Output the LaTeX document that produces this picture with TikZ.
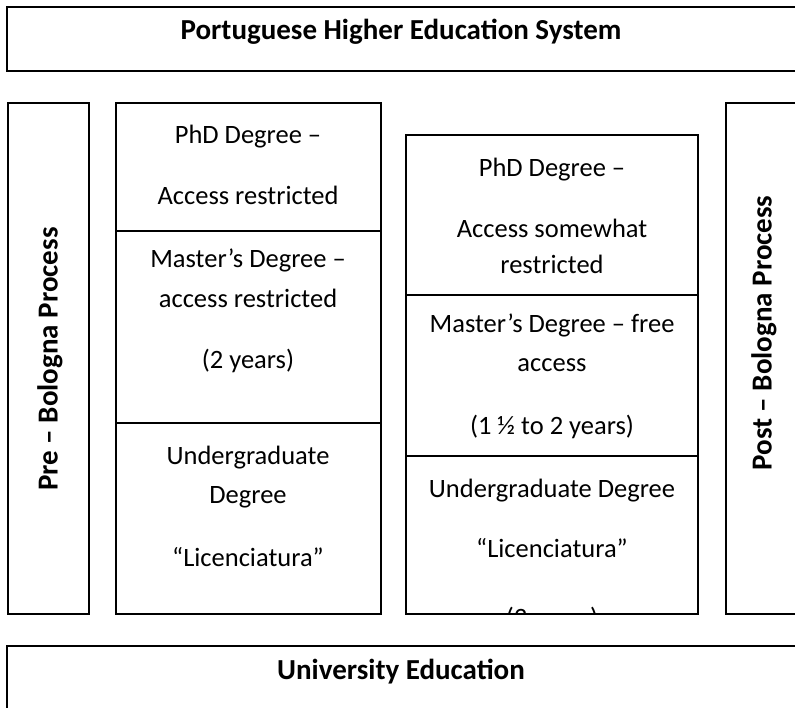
\documentclass[tikz,border=0pt]{standalone}
\usepackage{fontspec}
\setmainfont{Carlito}
\begin{document}
\begin{tikzpicture}[x=1pt,y=-1pt,line join=miter,line width=1.7pt]
	\tikzset{txt style/.style={font=\fontsize{26.5}{30}\selectfont,inner sep=0pt,anchor=base},
		head style/.style={font=\fontsize{29}{33}\selectfont\bfseries,inner sep=0pt}}
	\useasboundingbox (0,0) rectangle (795,708);
	\clip (0,0) rectangle (795,708);
	% outer frames
	\draw (7,7) rectangle (830,71);
	\draw (8,103) rectangle (89,614);
	\draw (726,103) rectangle (830,614);
	\draw (7,646) rectangle (830,730);
	% left column (pre)
	\draw (116,103) rectangle (381,614);
	\foreach \y in {231,423}
		\draw (116,\y)--(381,\y);
	% right column (post)
	\draw (406,135) rectangle (698,614);
	\foreach \y in {295,456}
		\draw (406,\y)--(698,\y);
	% headings
	\node[head style,anchor=base] (title) at (401,40) {Portuguese Higher Education System};
	\node[head style,anchor=base] (univ) at (401,679) {University Education};
	\node[head style,rotate=90] (pre) at (50,359) {Pre – Bologna Process};
	\node[head style,rotate=90] (post) at (764,333) {Post – Bologna Process};
	% pre-Bologna degrees
	\node[txt style] (lphd) at (248,144) {PhD Degree –};
	\node[txt style] (lphdacc) at (248,205) {Access restricted};
	\node[txt style] (lms) at (248,268) {Master’s Degree –};
	\node[txt style] (lmsacc) at (248,308) {access restricted};
	\node[txt style] (lmsyr) at (248,369) {(2 years)};
	\node[txt style] (lug) at (248,464) {Undergraduate};
	\node[txt style] (lugdeg) at (248,503) {Degree};
	\node[txt style] (lugname) at (248,566) {“Licenciatura”};
	% post-Bologna degrees
	\node[txt style] (rphd) at (552,177) {PhD Degree –};
	\node[txt style] (rphdacc) at (552,238) {Access somewhat};
	\node[txt style] (rphdres) at (552,274) {restricted};
	\node[txt style] (rms) at (552,333) {Master’s Degree – free};
	\node[txt style] (rmsacc) at (552,372) {access};
	\node[txt style] (rmsyr) at (552,434) {(1 ½ to 2 years)};
	\node[txt style] (rug) at (552,497) {Undergraduate Degree};
	\node[txt style] (rugname) at (552,557) {“Licenciatura”};
	\begin{scope}
		\clip (406,456) rectangle (698,612);
		\node[txt style] (rugyr) at (552,626) {(3 years)};
	\end{scope}
\end{tikzpicture}
\end{document}
